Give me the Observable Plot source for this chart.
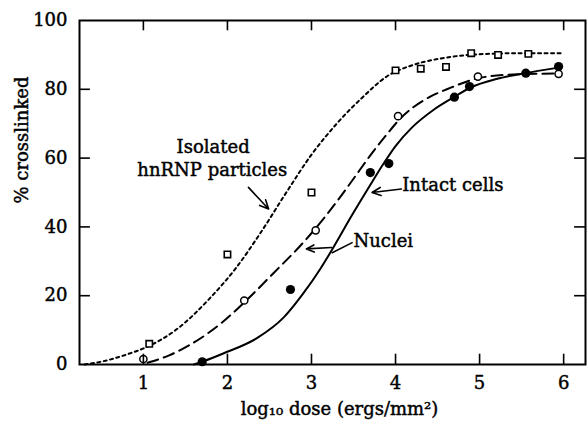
<!DOCTYPE html>
<html>
<head>
<meta charset="utf-8">
<script src="https://cdn.jsdelivr.net/npm/d3@7"></script>
<script src="https://cdn.jsdelivr.net/npm/@observablehq/plot@0.6"></script>
<style>
  html, body { margin: 0; padding: 0; background: #fff; }
</style>
</head>
<body>
<div id="chart"></div>
<script>
// ---- data ----
// Isolated hnRNP particles (open squares, dotted curve)
const isoX = [1.07, 2.0, 3.0, 4.0, 4.3, 4.6, 4.9, 5.22, 5.58];
const isoY = [6, 32, 50, 85.5, 86, 86.5, 90.5, 90, 90.3];
const isoCurveX = [0.3, 0.55, 0.8, 1.05, 1.4, 1.8, 2.1, 2.4, 2.7, 3.0, 3.3, 3.6, 3.9, 4.2, 4.6, 5.0, 5.5, 6.0];
const isoCurveY = [0, 1.1, 2.9, 5.2, 10.3, 19.5, 28, 38.5, 50, 61, 70, 77.5, 83.8, 87, 89.2, 90.2, 90.5, 90.5];

// Nuclei (open circles, dashed curve)
const nucX = [1.0, 2.2, 3.05, 4.03, 4.98, 5.94];
const nucY = [1.6, 18.6, 39, 72.2, 83.7, 84.5];
const nucCurveX = [1.05, 1.3, 1.56, 1.95, 2.21, 2.55, 2.87, 3.05, 3.3, 3.5, 3.7, 3.9, 4.06, 4.35, 4.65, 5.0, 5.4, 5.95];
const nucCurveY = [0.5, 2.6, 5.8, 12.5, 18.3, 26.6, 34.6, 39.6, 47.3, 54, 60.8, 67, 71.6, 77, 80.4, 83.3, 84.3, 84.6];

// Intact cells (filled circles, solid curve)
const intX = [1.7, 2.75, 3.7, 3.92, 4.7, 4.88, 5.55, 5.94];
const intY = [0.8, 21.8, 55.8, 58.4, 77.7, 80.8, 84.7, 86.6];
const intCurveX = [1.6, 1.71, 1.95, 2.36, 2.67, 2.9, 3.11, 3.26, 3.46, 3.67, 3.86, 4.0, 4.2, 4.45, 4.7, 4.9, 5.2, 5.52, 5.94];
const intCurveY = [0, 0.9, 3.2, 7.8, 13.7, 20.6, 28, 34, 42.5, 51, 58.5, 63.5, 69, 74, 77.8, 80.6, 83, 84.6, 86.3];

// axes
const xTicks = [1, 2, 3, 4, 5, 6];
const yTicks = [0, 20, 40, 60, 80, 100];
const yInnerTicks = [20, 40, 60, 80];
const xLabel = "log\u2081\u2080 dose (ergs/mm\u00B2)";
const yLabel = "% crosslinked";

// annotations
const centerLabels = [
  {text: "Isolated", x: 1.83, y: 61.5},
  {text: "hnRNP particles", x: 1.82, y: 54.8}
];
const startLabels = [
  {text: "Intact cells", x: 4.08, y: 50.3},
  {text: "Nuclei", x: 3.5, y: 34.3}
];
const arrows = [
  {x1: 2.25, y1: 51.5, x2: 2.49, y2: 45.2},
  {x1: 4.07, y1: 51.0, x2: 3.72, y2: 50.0},
  {x1: 3.24, y1: 34.0, x2: 2.94, y2: 33.6}
];
const leaders = [
  {x1: 3.49, y1: 35.5, x2: 3.24, y2: 32.4}
];

const toPts = (xs, ys) => xs.map((x, i) => ({x, y: ys[i]}));

const font = "DejaVu Serif";
const fs = 18;
const textStyle = {fontSize: fs, fill: "#000", stroke: "#000", strokeWidth: 0.45};

const chart = Plot.plot({
  width: 587,
  height: 427,
  marginLeft: 79,
  marginRight: 2,
  marginTop: 20,
  marginBottom: 63,
  x: {domain: [0.24, 6.26], axis: null},
  y: {domain: [0, 100], axis: null},
  style: {fontFamily: font, fontSize: fs + "px", background: "#fff", color: "#000"},
  marks: [
    // curves
    Plot.line(toPts(isoCurveX, isoCurveY), {x: "x", y: "y", curve: "monotone-x", stroke: "#000", strokeWidth: 2, strokeDasharray: "3,3.5"}),
    Plot.line(toPts(nucCurveX, nucCurveY), {x: "x", y: "y", curve: "monotone-x", stroke: "#000", strokeWidth: 2, strokeDasharray: "11,6"}),
    Plot.line(toPts(intCurveX, intCurveY), {x: "x", y: "y", curve: "monotone-x", stroke: "#000", strokeWidth: 2}),
    // points
    Plot.dot(toPts(isoX, isoY), {x: "x", y: "y", symbol: "square", r: 3.6, fill: "#fff", stroke: "#000", strokeWidth: 1.6}),
    Plot.dot(toPts(nucX, nucY), {x: "x", y: "y", r: 3.6, fill: "#fff", stroke: "#000", strokeWidth: 1.5}),
    Plot.dot(toPts(intX, intY), {x: "x", y: "y", r: 4.6, fill: "#000", stroke: "none"}),
    // frame
    Plot.frame({stroke: "#000", strokeWidth: 2}),
    // inward ticks
    Plot.ruleX(xTicks, {x: d => d, y1: 0, y2: 3, stroke: "#000", strokeWidth: 1.6}),
    Plot.ruleX(xTicks, {x: d => d, y1: 97, y2: 100, stroke: "#000", strokeWidth: 1.6}),
    Plot.ruleY(yInnerTicks, {y: d => d, x1: 0.24, x2: 0.37, stroke: "#000", strokeWidth: 1.6}),
    Plot.ruleY(yInnerTicks, {y: d => d, x1: 6.13, x2: 6.26, stroke: "#000", strokeWidth: 1.6}),
    // tick labels
    Plot.text(xTicks, {x: d => d, text: d => String(d), frameAnchor: "bottom", dy: 24, ...textStyle}),
    Plot.text(yTicks, {y: d => d, text: d => String(d), frameAnchor: "left", textAnchor: "end", dx: -12, ...textStyle}),
    // axis titles
    Plot.text([xLabel], {text: d => d, frameAnchor: "bottom", dx: 7, dy: 50, ...textStyle}),
    Plot.text([yLabel], {text: d => d, frameAnchor: "left", rotate: -90, dx: -57, dy: 11, ...textStyle}),
    // annotations
    Plot.text(centerLabels, {x: "x", y: "y", text: "text", textAnchor: "middle", lineAnchor: "bottom", ...textStyle}),
    Plot.text(startLabels, {x: "x", y: "y", text: "text", textAnchor: "start", lineAnchor: "bottom", ...textStyle}),
    Plot.arrow(arrows, {x1: "x1", y1: "y1", x2: "x2", y2: "y2", stroke: "#000", strokeWidth: 1.6, headLength: 9, headAngle: 50}),
    Plot.link(leaders, {x1: "x1", y1: "y1", x2: "x2", y2: "y2", stroke: "#000", strokeWidth: 1.6})
  ]
});
document.getElementById("chart").appendChild(chart);
</script>
</body>
</html>
